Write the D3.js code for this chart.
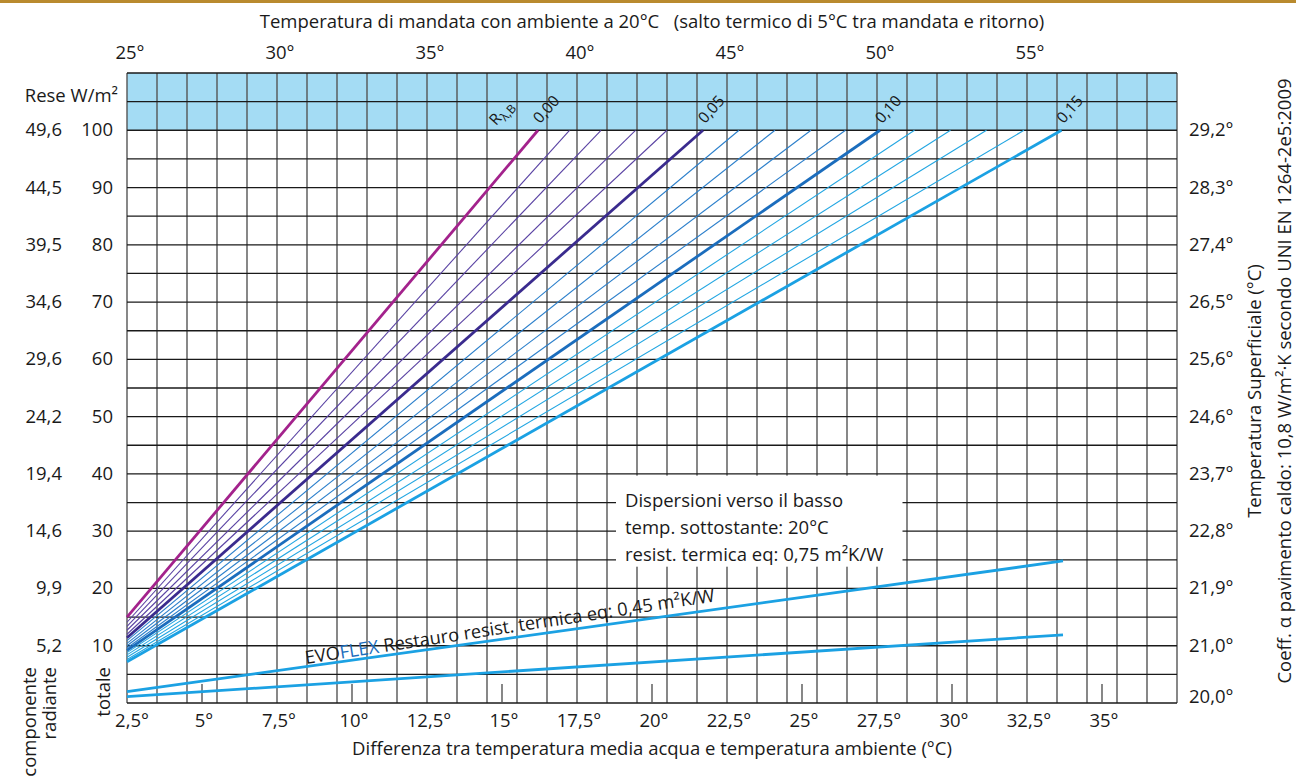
<!DOCTYPE html>
<html>
<head>
<meta charset="utf-8">
<script src="https://cdn.jsdelivr.net/npm/d3@7"></script>
<style>
  body { margin: 0; background: #fff; }
  svg text { font-family: "Open Sans", sans-serif; fill: #1a1a1a; font-size: 18.5px; }
</style>
</head>
<body>
<svg id="chart" width="1296" height="778"></svg>
<script>
// resistenze termiche del rivestimento (m²K/W)
var rValues = [0.00, 0.01, 0.02, 0.03, 0.04, 0.05, 0.06, 0.07, 0.08, 0.09, 0.10, 0.11, 0.12, 0.13, 0.14, 0.15];
// deltaT a cui ogni retta arriva a 100 W/m²
var endDeltaT = [16.2, 17.25, 18.3, 19.45, 20.5, 21.7, 22.9, 24.1, 25.3, 26.45, 27.6, 28.75, 29.95, 31.15, 32.4, 33.65];
// resa a deltaT = 2,5
var startQ = [15.0, 14.1, 13.4, 12.7, 12.0, 11.4, 10.9, 10.4, 10.0, 9.6, 9.2, 8.8, 8.4, 8.0, 7.6, 7.2];

// dispersioni verso il basso (EVOFLEX Restauro)
var lossUpper = [[2.5, 2.0], [33.7, 24.8]];
var lossLower = [[2.5, 1.1], [33.7, 11.9]];

var bottomTicks = [2.5, 5, 7.5, 10, 12.5, 15, 17.5, 20, 22.5, 25, 27.5, 30, 32.5, 35];
var topTicks = [25, 30, 35, 40, 45, 50, 55];
var reseTotale = [100, 90, 80, 70, 60, 50, 40, 30, 20, 10];
var reseRadiante = ["49,6", "44,5", "39,5", "34,6", "29,6", "24,2", "19,4", "14,6", "9,9", "5,2"];
var tempSup = ["29,2°", "28,3°", "27,4°", "26,5°", "25,6°", "24,6°", "23,7°", "22,8°", "21,9°", "21,0°", "20,0°"];
var tempSupVal = [100, 90, 80, 70, 60, 50, 40, 30, 20, 10, 0];

var colorFor = function(r, i) {
  if (i == 0) return "#a3228c";
  if (i < 5) return "#5a43a3";
  if (i == 5) return "#3a2b8e";
  if (i < 10) return "#2b7fcb";
  if (i == 10) return "#1b6dbd";
  if (i < 15) return "#22a6e2";
  return "#1ba1e3";
};

var svg = d3.select("#chart");
var fmt = function(v) { return String(v).replace(".", ","); };

var x = d3.scaleLinear().domain([2.5, 37.5]).range([127, 1177]);
var y = d3.scaleLinear().domain([0, 110]).range([703, 73]);

// barra in alto
svg.append("rect").attr("x", 0).attr("y", 0).attr("width", 1296).attr("height", 3).style("fill", "#b98a2e");

// fascia azzurra
svg.append("rect")
    .attr("x", x(2.5)).attr("y", y(110))
    .attr("width", x(37.5) - x(2.5)).attr("height", y(100) - y(110))
    .style("fill", "#a4dcf4");

// griglia
svg.selectAll(".vgrid")
    .data(d3.range(2.5, 37.6, 1))
  .enter().append("line")
    .attr("class", "vgrid")
    .attr("x1", function(d) { return x(d); }).attr("x2", function(d) { return x(d); })
    .attr("y1", y(110)).attr("y2", y(0))
    .style("stroke", "#555").style("stroke-width", 1.4);

svg.selectAll(".hgrid")
    .data(d3.range(0, 111, 5))
  .enter().append("line")
    .attr("class", "hgrid")
    .attr("x1", x(2.5)).attr("x2", x(37.5))
    .attr("y1", function(d) { return y(d); }).attr("y2", function(d) { return y(d); })
    .style("stroke", "#1a1a1a").style("stroke-width", 1.3);

// tacche in basso
svg.selectAll(".btick")
    .data([5, 10, 15, 20, 25, 30, 35])
  .enter().append("line")
    .attr("x1", function(d) { return x(d); }).attr("x2", function(d) { return x(d); })
    .attr("y1", y(0)).attr("y2", y(0) - 19)
    .style("stroke", "#555").style("stroke-width", 1.4);

// riquadro dispersioni
var bx0 = x(18.8), bx1 = x(28.35), by0 = y(39.7), by1 = y(23.8);
svg.append("rect")
    .attr("x", bx0).attr("y", by0).attr("width", bx1 - bx0).attr("height", by1 - by0)
    .style("fill", "#fff");
var boxLines = ["Dispersioni verso il basso", "temp. sottostante: 20°C", "resist. termica eq: 0,75 m²K/W"];
svg.selectAll(".boxtxt")
    .data(boxLines)
  .enter().append("text")
    .attr("x", bx0 + 9)
    .attr("y", function(d, i) { return by0 + 31 + i * 27; })
    .text(function(d) { return d; });

// rette di resa
var line = d3.line().x(function(d) { return x(d[0]); }).y(function(d) { return y(d[1]); });
svg.selectAll(".resa")
    .data(rValues)
  .enter().append("path")
    .attr("class", "resa")
    .attr("d", function(d, i) { return line([[2.5, startQ[i]], [endDeltaT[i], 100]]); })
    .style("fill", "none")
    .style("stroke", colorFor)
    .style("stroke-width", function(d, i) { return i % 5 == 0 ? 2.8 : 1.1; });

svg.selectAll(".loss")
    .data([lossUpper, lossLower])
  .enter().append("path")
    .attr("d", line)
    .style("fill", "none").style("stroke", "#1ba1e3").style("stroke-width", 2.8);

// etichette R
svg.selectAll(".rlab")
    .data([0, 5, 10, 15])
  .enter().append("text")
    .attr("transform", function(i) {
      return "translate(" + (x(endDeltaT[i]) + 2) + "," + (y(100) - 6) + ")rotate(-48)";
    })
    .style("font-size", "15.5px")
    .text(function(i) { return fmt(rValues[i].toFixed(2)); });

var rl = svg.append("text")
    .attr("transform", "translate(" + (x(endDeltaT[0]) - 42) + "," + (y(100) - 4) + ")rotate(-48)")
    .style("font-size", "15.5px");
rl.append("tspan").text("R");
rl.append("tspan").attr("dy", 4).style("font-size", "12px").text("λ,B");

// etichetta EVOFLEX
var evo = svg.append("text")
    .attr("transform", "translate(306,664)rotate(-8.7)")
    .style("font-size", "18.2px");
evo.append("tspan").text("EVO");
evo.append("tspan").style("fill", "#1b6dbd").text("FLEX");
evo.append("tspan").text(" Restauro resist. termica eq: 0,45 m²K/W");

// asse in basso
svg.selectAll(".blab")
    .data(bottomTicks)
  .enter().append("text")
    .attr("x", function(d, i) { return x(d) + (i == 0 ? 5 : 2); })
    .attr("y", 727)
    .attr("text-anchor", "middle")
    .text(function(d) { return fmt(d) + "°"; });

svg.append("text")
    .attr("x", 652).attr("y", 755)
    .attr("text-anchor", "middle")
    .text("Differenza tra temperatura media acqua e temperatura ambiente (°C)");

// asse in alto (mandata = ambiente + deltaT + 2,5)
svg.selectAll(".tlab")
    .data(topTicks)
  .enter().append("text")
    .attr("x", function(d) { return x(d - 22.5) + 3; })
    .attr("y", 59)
    .attr("text-anchor", "middle")
    .text(function(d) { return d + "°"; });

svg.append("text")
    .attr("x", 652).attr("y", 28)
    .attr("text-anchor", "middle")
    .attr("xml:space", "preserve")
    .text("Temperatura di mandata con ambiente a 20°C   (salto termico di 5°C tra mandata e ritorno)");

// asse sinistro
svg.append("text")
    .attr("x", 118).attr("y", 102)
    .attr("text-anchor", "end")
    .text("Rese W/m²");

svg.selectAll(".ltot")
    .data(reseTotale)
  .enter().append("text")
    .attr("x", 113)
    .attr("y", function(d) { return y(d) + 6; })
    .attr("text-anchor", "end")
    .text(function(d) { return d; });

svg.selectAll(".lrad")
    .data(reseRadiante)
  .enter().append("text")
    .attr("x", 62)
    .attr("y", function(d, i) { return y(reseTotale[i]) + 6; })
    .attr("text-anchor", "end")
    .text(function(d) { return d; });

[["componente", 36], ["radiante", 56], ["totale", 110]].forEach(function(t) {
  svg.append("text")
      .attr("transform", "translate(" + t[1] + ",667)rotate(-90)")
      .attr("text-anchor", "end")
      .text(t[0]);
});

// asse destro
svg.selectAll(".rtemp")
    .data(tempSup)
  .enter().append("text")
    .attr("x", 1189)
    .attr("y", function(d, i) { return y(tempSupVal[i]) + (i == 10 ? 0 : 6); })
    .text(function(d) { return d; });

svg.append("text")
    .attr("transform", "translate(1261,391)rotate(-90)")
    .attr("text-anchor", "middle")
    .text("Temperatura Superficiale (°C)");

svg.append("text")
    .attr("transform", "translate(1291,381)rotate(-90)")
    .attr("text-anchor", "middle")
    .text("Coeff. α pavimento caldo: 10,8 W/m²·K secondo UNI EN 1264-2e5:2009");
</script>
</body>
</html>
